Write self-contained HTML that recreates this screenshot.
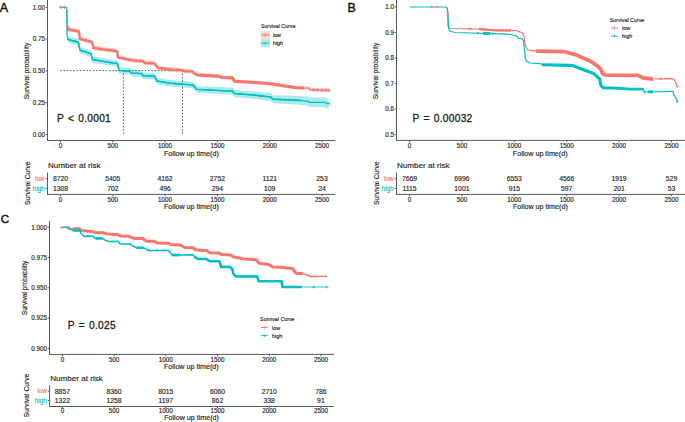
<!DOCTYPE html>
<html><head><meta charset="utf-8"><style>
html,body{margin:0;padding:0;background:#fff;overflow:hidden;}
svg{display:block;font-family:"Liberation Sans", sans-serif;}
</style></head><body>
<svg width="685" height="422" viewBox="0 0 685 422">
<rect width="685" height="422" fill="#fff"/>
<text x="-0.30" y="11.90" font-size="12.5" text-anchor="start" fill="#111" font-weight="normal" stroke="#111" stroke-width="0.45">A</text>
<line x1="47.50" y1="0.00" x2="47.50" y2="141.00" stroke="#5a5a5a" stroke-width="1" />
<line x1="47.00" y1="140.50" x2="335.20" y2="140.50" stroke="#5a5a5a" stroke-width="1" />
<line x1="45.70" y1="7.30" x2="47.50" y2="7.30" stroke="#5a5a5a" stroke-width="1" />
<text x="44.90" y="9.60" font-size="6.3" text-anchor="end" fill="#1e1e1e" font-weight="normal" stroke="#1e1e1e" stroke-width="0.15" paint-order="stroke">1.00</text>
<line x1="45.70" y1="39.10" x2="47.50" y2="39.10" stroke="#5a5a5a" stroke-width="1" />
<text x="44.90" y="41.40" font-size="6.3" text-anchor="end" fill="#1e1e1e" font-weight="normal" stroke="#1e1e1e" stroke-width="0.15" paint-order="stroke">0.75</text>
<line x1="45.70" y1="70.90" x2="47.50" y2="70.90" stroke="#5a5a5a" stroke-width="1" />
<text x="44.90" y="73.20" font-size="6.3" text-anchor="end" fill="#1e1e1e" font-weight="normal" stroke="#1e1e1e" stroke-width="0.15" paint-order="stroke">0.50</text>
<line x1="45.70" y1="102.70" x2="47.50" y2="102.70" stroke="#5a5a5a" stroke-width="1" />
<text x="44.90" y="105.00" font-size="6.3" text-anchor="end" fill="#1e1e1e" font-weight="normal" stroke="#1e1e1e" stroke-width="0.15" paint-order="stroke">0.25</text>
<line x1="45.70" y1="134.50" x2="47.50" y2="134.50" stroke="#5a5a5a" stroke-width="1" />
<text x="44.90" y="136.80" font-size="6.3" text-anchor="end" fill="#1e1e1e" font-weight="normal" stroke="#1e1e1e" stroke-width="0.15" paint-order="stroke">0.00</text>
<line x1="60.50" y1="140.50" x2="60.50" y2="142.30" stroke="#5a5a5a" stroke-width="1" />
<text x="60.50" y="148.00" font-size="6.3" text-anchor="middle" fill="#1e1e1e" font-weight="normal" stroke="#1e1e1e" stroke-width="0.15" paint-order="stroke">0</text>
<line x1="112.80" y1="140.50" x2="112.80" y2="142.30" stroke="#5a5a5a" stroke-width="1" />
<text x="112.80" y="148.00" font-size="6.3" text-anchor="middle" fill="#1e1e1e" font-weight="normal" stroke="#1e1e1e" stroke-width="0.15" paint-order="stroke">500</text>
<line x1="165.10" y1="140.50" x2="165.10" y2="142.30" stroke="#5a5a5a" stroke-width="1" />
<text x="165.10" y="148.00" font-size="6.3" text-anchor="middle" fill="#1e1e1e" font-weight="normal" stroke="#1e1e1e" stroke-width="0.15" paint-order="stroke">1000</text>
<line x1="217.40" y1="140.50" x2="217.40" y2="142.30" stroke="#5a5a5a" stroke-width="1" />
<text x="217.40" y="148.00" font-size="6.3" text-anchor="middle" fill="#1e1e1e" font-weight="normal" stroke="#1e1e1e" stroke-width="0.15" paint-order="stroke">1500</text>
<line x1="269.70" y1="140.50" x2="269.70" y2="142.30" stroke="#5a5a5a" stroke-width="1" />
<text x="269.70" y="148.00" font-size="6.3" text-anchor="middle" fill="#1e1e1e" font-weight="normal" stroke="#1e1e1e" stroke-width="0.15" paint-order="stroke">2000</text>
<line x1="322.00" y1="140.50" x2="322.00" y2="142.30" stroke="#5a5a5a" stroke-width="1" />
<text x="322.00" y="148.00" font-size="6.3" text-anchor="middle" fill="#1e1e1e" font-weight="normal" stroke="#1e1e1e" stroke-width="0.15" paint-order="stroke">2500</text>
<text x="164.00" y="155.50" font-size="7.15" text-anchor="start" fill="#1e1e1e" font-weight="normal" stroke="#1e1e1e" stroke-width="0.15" paint-order="stroke">Follow up time(d)</text>
<text x="0" y="0" font-size="6.75" text-anchor="middle" fill="#1e1e1e" stroke="#1e1e1e" stroke-width="0.15" transform="translate(28.80,71.00) rotate(-90)">Survival probability</text>
<text x="260.90" y="28.20" font-size="5.3" text-anchor="start" fill="#1e1e1e" font-weight="normal" stroke="#1e1e1e" stroke-width="0.15" paint-order="stroke">Survival Curve</text>
<rect x="260.90" y="30.90" width="9" height="8" fill="#F8766D" fill-opacity="0.3"/>
<line x1="260.90" y1="34.90" x2="269.90" y2="34.90" stroke="#F8766D" stroke-width="0.9" />
<line x1="265.40" y1="33.50" x2="265.40" y2="36.30" stroke="#F8766D" stroke-width="0.8" />
<text x="272.90" y="36.90" font-size="5.4" text-anchor="start" fill="#1e1e1e" font-weight="normal" stroke="#1e1e1e" stroke-width="0.15" paint-order="stroke">low</text>
<rect x="260.90" y="39.10" width="9" height="8" fill="#00BFC4" fill-opacity="0.3"/>
<line x1="260.90" y1="43.10" x2="269.90" y2="43.10" stroke="#00BFC4" stroke-width="0.9" />
<line x1="265.40" y1="41.70" x2="265.40" y2="44.50" stroke="#00BFC4" stroke-width="0.8" />
<text x="272.90" y="45.10" font-size="5.4" text-anchor="start" fill="#1e1e1e" font-weight="normal" stroke="#1e1e1e" stroke-width="0.15" paint-order="stroke">high</text>
<text x="57.00" y="121.80" font-size="10.2" text-anchor="start" fill="#1e1e1e" font-weight="normal" word-spacing="1.0" letter-spacing="0.26" stroke="#1e1e1e" stroke-width="0.3" paint-order="stroke">P &lt; 0.0001</text>
<polygon points="67.3,33.3 67.8,35.8 69.0,36.6 78.4,39.0 80.0,47.1 91.1,50.6 92.5,56.3 115.0,60.2 117.6,60.1 119.0,67.1 130.0,68.0 131.0,69.7 141.3,70.2 143.0,72.4 154.5,72.8 157.0,77.7 170.0,79.9 192.8,81.7 197.0,86.1 230.0,87.6 232.5,87.7 234.5,90.0 255.0,91.5 270.8,93.0 273.0,95.2 302.4,95.9 303.0,96.4 308.0,96.4 309.0,97.6 324.5,97.3 327.0,98.6 328.5,98.6 328.5,108.6 327.0,108.6 324.5,107.3 309.0,107.0 308.0,105.8 303.0,105.6 302.4,105.1 273.0,103.2 270.8,101.0 255.0,98.9 234.5,97.0 232.5,94.7 230.0,94.6 197.0,92.7 192.8,88.3 170.0,86.5 157.0,84.3 154.5,79.4 143.0,79.0 141.3,76.8 131.0,76.3 130.0,74.6 119.0,73.7 117.6,66.7 115.0,66.6 92.5,62.7 91.1,57.0 80.0,53.5 78.4,45.4 69.0,43.0 67.8,42.2 67.3,39.7" fill="#00BFC4" fill-opacity="0.33" stroke="none"/>
<polygon points="67.5,24.1 67.9,27.1 78.9,29.3 80.0,36.6 92.0,39.8 93.5,45.8 117.0,48.9 118.0,55.1 132.5,58.2 143.0,59.0 145.0,60.8 154.5,61.2 158.0,65.6 170.0,67.3 181.4,67.9 185.0,69.0 192.0,69.2 197.0,72.7 219.0,74.4 222.0,75.7 232.5,76.0 234.5,79.4 255.0,80.7 270.8,82.0 284.8,84.2 297.1,86.0 304.0,86.2 309.0,86.2 310.0,87.8 329.6,88.6 329.6,92.2 310.0,91.4 309.0,89.8 304.0,89.8 297.1,89.6 284.8,87.8 270.8,85.6 255.0,84.3 234.5,83.0 232.5,79.6 222.0,79.3 219.0,78.0 197.0,77.1 192.0,73.6 185.0,73.4 181.4,72.3 170.0,71.7 158.0,70.0 154.5,65.6 145.0,65.2 143.0,63.4 132.5,62.6 118.0,59.5 117.0,53.3 93.5,50.2 92.0,44.2 80.0,41.0 78.9,33.7 67.9,31.5 67.5,28.5" fill="#F8766D" fill-opacity="0.33" stroke="none"/>
<line x1="60.30" y1="70.60" x2="182.50" y2="70.60" stroke="#333" stroke-width="0.75" stroke-dasharray="1.6,1.65"/>
<line x1="123.40" y1="70.60" x2="123.40" y2="134.50" stroke="#333" stroke-width="0.75" stroke-dasharray="1.6,1.65"/>
<line x1="182.50" y1="70.60" x2="182.50" y2="134.50" stroke="#333" stroke-width="0.75" stroke-dasharray="1.6,1.65"/>
<polyline points="66.9,10.0 67.5,26.3 67.9,29.3 78.9,31.5 80.0,38.8 92.0,42.0 93.5,48.0 117.0,51.1 118.0,57.3 132.5,60.4 143.0,61.2 145.0,63.0 154.5,63.4 158.0,67.8 170.0,69.5 181.4,70.1 185.0,71.2 192.0,71.4 197.0,74.9 219.0,76.2 222.0,77.5 232.5,77.8 234.5,81.2 255.0,82.5 270.8,83.8 284.8,86.0 297.1,87.8 304.0,88.0 309.0,88.0 310.0,89.6 329.6,90.4" fill="none" stroke="#F8766D" stroke-width="1.2" stroke-linejoin="round" />
<polyline points="67.6,27.0 67.9,29.3 78.9,31.5 80.0,38.8 92.0,42.0 93.5,48.0 117.0,51.1 118.0,57.3 132.5,60.4 143.0,61.2 145.0,63.0 154.5,63.4 158.0,67.8 170.0,69.5 181.4,70.1 185.0,71.2 192.0,71.4 197.0,74.9 200.0,75.1" fill="none" stroke="#F8766D" stroke-width="2.4" stroke-linejoin="round"  stroke-linecap="butt"/>
<polyline points="200.0,75.1 219.0,76.2 222.0,77.5 232.5,77.8 234.5,81.2 255.0,82.5 270.8,83.8 284.8,86.0 297.1,87.8 304.0,88.0" fill="none" stroke="#F8766D" stroke-width="3.1" stroke-linejoin="round"  stroke-linecap="butt"/>
<polyline points="59.3,7.3 66.8,7.3 67.0,35.0 67.8,39.0 69.0,39.8 78.4,42.2 80.0,50.3 91.1,53.8 92.5,59.5 115.0,63.4 117.6,63.4 119.0,70.4 130.0,71.3 131.0,73.0 141.3,73.5 143.0,75.7 154.5,76.1 157.0,81.0 170.0,83.2 192.8,85.0 197.0,89.4 230.0,91.1 232.5,91.2 234.5,93.5 255.0,95.2 270.8,97.0 273.0,99.2 302.4,100.5 303.0,101.0 308.0,101.1 309.0,102.3 324.5,102.3 327.0,103.6 328.9,103.6" fill="none" stroke="#00BFC4" stroke-width="1.2" stroke-linejoin="round" />
<polyline points="67.6,38.0 67.8,39.0 69.0,39.8 78.4,42.2 80.0,50.3 91.1,53.8 92.5,59.5 115.0,63.4 117.6,63.4 119.0,70.4 130.0,71.3 131.0,73.0 141.3,73.5 143.0,75.7 154.5,76.1 157.0,81.0 170.0,83.2 192.8,85.0 197.0,89.4 230.0,91.1 232.5,91.2 234.5,93.5 255.0,95.2 270.8,97.0 273.0,99.2 302.4,100.5" fill="none" stroke="#00BFC4" stroke-width="1.45" stroke-linejoin="round"  stroke-linecap="butt"/>
<line x1="59.30" y1="7.30" x2="62.70" y2="7.30" stroke="#F8766D" stroke-width="0.9" />
<line x1="61.00" y1="5.60" x2="61.00" y2="9.00" stroke="#F8766D" stroke-width="0.9" />
<line x1="62.80" y1="7.30" x2="66.20" y2="7.30" stroke="#F8766D" stroke-width="0.9" />
<line x1="64.50" y1="5.60" x2="64.50" y2="9.00" stroke="#F8766D" stroke-width="0.9" />
<line x1="65.80" y1="26.30" x2="69.20" y2="26.30" stroke="#F8766D" stroke-width="0.9" />
<line x1="67.50" y1="24.60" x2="67.50" y2="28.00" stroke="#F8766D" stroke-width="0.9" />
<line x1="78.30" y1="38.80" x2="81.70" y2="38.80" stroke="#F8766D" stroke-width="0.9" />
<line x1="80.00" y1="37.10" x2="80.00" y2="40.50" stroke="#F8766D" stroke-width="0.9" />
<line x1="84.30" y1="40.40" x2="87.70" y2="40.40" stroke="#F8766D" stroke-width="0.9" />
<line x1="86.00" y1="38.70" x2="86.00" y2="42.10" stroke="#F8766D" stroke-width="0.9" />
<line x1="98.30" y1="48.86" x2="101.70" y2="48.86" stroke="#F8766D" stroke-width="0.9" />
<line x1="100.00" y1="47.16" x2="100.00" y2="50.56" stroke="#F8766D" stroke-width="0.9" />
<line x1="107.30" y1="50.04" x2="110.70" y2="50.04" stroke="#F8766D" stroke-width="0.9" />
<line x1="109.00" y1="48.34" x2="109.00" y2="51.74" stroke="#F8766D" stroke-width="0.9" />
<line x1="111.30" y1="50.57" x2="114.70" y2="50.57" stroke="#F8766D" stroke-width="0.9" />
<line x1="113.00" y1="48.87" x2="113.00" y2="52.27" stroke="#F8766D" stroke-width="0.9" />
<line x1="122.30" y1="58.58" x2="125.70" y2="58.58" stroke="#F8766D" stroke-width="0.9" />
<line x1="124.00" y1="56.88" x2="124.00" y2="60.28" stroke="#F8766D" stroke-width="0.9" />
<line x1="133.30" y1="60.59" x2="136.70" y2="60.59" stroke="#F8766D" stroke-width="0.9" />
<line x1="135.00" y1="58.89" x2="135.00" y2="62.29" stroke="#F8766D" stroke-width="0.9" />
<line x1="138.30" y1="60.97" x2="141.70" y2="60.97" stroke="#F8766D" stroke-width="0.9" />
<line x1="140.00" y1="59.27" x2="140.00" y2="62.67" stroke="#F8766D" stroke-width="0.9" />
<line x1="149.30" y1="63.25" x2="152.70" y2="63.25" stroke="#F8766D" stroke-width="0.9" />
<line x1="151.00" y1="61.55" x2="151.00" y2="64.95" stroke="#F8766D" stroke-width="0.9" />
<line x1="163.30" y1="68.79" x2="166.70" y2="68.79" stroke="#F8766D" stroke-width="0.9" />
<line x1="165.00" y1="67.09" x2="165.00" y2="70.49" stroke="#F8766D" stroke-width="0.9" />
<line x1="169.30" y1="69.55" x2="172.70" y2="69.55" stroke="#F8766D" stroke-width="0.9" />
<line x1="171.00" y1="67.85" x2="171.00" y2="71.25" stroke="#F8766D" stroke-width="0.9" />
<line x1="175.30" y1="69.87" x2="178.70" y2="69.87" stroke="#F8766D" stroke-width="0.9" />
<line x1="177.00" y1="68.17" x2="177.00" y2="71.57" stroke="#F8766D" stroke-width="0.9" />
<line x1="311.80" y1="89.74" x2="315.20" y2="89.74" stroke="#F8766D" stroke-width="0.9" />
<line x1="313.50" y1="88.04" x2="313.50" y2="91.44" stroke="#F8766D" stroke-width="0.9" />
<line x1="315.50" y1="89.89" x2="318.90" y2="89.89" stroke="#F8766D" stroke-width="0.9" />
<line x1="317.20" y1="88.19" x2="317.20" y2="91.59" stroke="#F8766D" stroke-width="0.9" />
<line x1="320.60" y1="90.10" x2="324.00" y2="90.10" stroke="#F8766D" stroke-width="0.9" />
<line x1="322.30" y1="88.40" x2="322.30" y2="91.80" stroke="#F8766D" stroke-width="0.9" />
<line x1="324.30" y1="90.25" x2="327.70" y2="90.25" stroke="#F8766D" stroke-width="0.9" />
<line x1="326.00" y1="88.55" x2="326.00" y2="91.95" stroke="#F8766D" stroke-width="0.9" />
<line x1="327.10" y1="90.37" x2="330.50" y2="90.37" stroke="#F8766D" stroke-width="0.9" />
<line x1="328.80" y1="88.67" x2="328.80" y2="92.07" stroke="#F8766D" stroke-width="0.9" />
<line x1="73.70" y1="41.33" x2="76.30" y2="41.33" stroke="#00BFC4" stroke-width="0.7" />
<line x1="75.00" y1="40.03" x2="75.00" y2="42.63" stroke="#00BFC4" stroke-width="0.7" />
<line x1="128.70" y1="71.30" x2="131.30" y2="71.30" stroke="#00BFC4" stroke-width="0.7" />
<line x1="130.00" y1="70.00" x2="130.00" y2="72.60" stroke="#00BFC4" stroke-width="0.7" />
<line x1="148.70" y1="75.94" x2="151.30" y2="75.94" stroke="#00BFC4" stroke-width="0.7" />
<line x1="150.00" y1="74.64" x2="150.00" y2="77.24" stroke="#00BFC4" stroke-width="0.7" />
<line x1="173.70" y1="83.59" x2="176.30" y2="83.59" stroke="#00BFC4" stroke-width="0.7" />
<line x1="175.00" y1="82.29" x2="175.00" y2="84.89" stroke="#00BFC4" stroke-width="0.7" />
<line x1="198.70" y1="89.55" x2="201.30" y2="89.55" stroke="#00BFC4" stroke-width="0.7" />
<line x1="200.00" y1="88.25" x2="200.00" y2="90.85" stroke="#00BFC4" stroke-width="0.7" />
<line x1="208.70" y1="90.07" x2="211.30" y2="90.07" stroke="#00BFC4" stroke-width="0.7" />
<line x1="210.00" y1="88.77" x2="210.00" y2="91.37" stroke="#00BFC4" stroke-width="0.7" />
<line x1="238.70" y1="93.96" x2="241.30" y2="93.96" stroke="#00BFC4" stroke-width="0.7" />
<line x1="240.00" y1="92.66" x2="240.00" y2="95.26" stroke="#00BFC4" stroke-width="0.7" />
<line x1="258.70" y1="95.77" x2="261.30" y2="95.77" stroke="#00BFC4" stroke-width="0.7" />
<line x1="260.00" y1="94.47" x2="260.00" y2="97.07" stroke="#00BFC4" stroke-width="0.7" />
<line x1="278.70" y1="99.51" x2="281.30" y2="99.51" stroke="#00BFC4" stroke-width="0.7" />
<line x1="280.00" y1="98.21" x2="280.00" y2="100.81" stroke="#00BFC4" stroke-width="0.7" />
<line x1="283.70" y1="99.73" x2="286.30" y2="99.73" stroke="#00BFC4" stroke-width="0.7" />
<line x1="285.00" y1="98.43" x2="285.00" y2="101.03" stroke="#00BFC4" stroke-width="0.7" />
<line x1="288.70" y1="99.95" x2="291.30" y2="99.95" stroke="#00BFC4" stroke-width="0.7" />
<line x1="290.00" y1="98.65" x2="290.00" y2="101.25" stroke="#00BFC4" stroke-width="0.7" />
<line x1="293.70" y1="100.17" x2="296.30" y2="100.17" stroke="#00BFC4" stroke-width="0.7" />
<line x1="295.00" y1="98.87" x2="295.00" y2="101.47" stroke="#00BFC4" stroke-width="0.7" />
<line x1="296.70" y1="100.31" x2="299.30" y2="100.31" stroke="#00BFC4" stroke-width="0.7" />
<line x1="298.00" y1="99.01" x2="298.00" y2="101.61" stroke="#00BFC4" stroke-width="0.7" />
<line x1="327.50" y1="103.60" x2="330.10" y2="103.60" stroke="#00BFC4" stroke-width="0.7" />
<line x1="328.80" y1="102.30" x2="328.80" y2="104.90" stroke="#00BFC4" stroke-width="0.7" />
<text x="48.00" y="168.10" font-size="8.1" text-anchor="start" fill="#1e1e1e" font-weight="normal" stroke="#1e1e1e" stroke-width="0.15" paint-order="stroke">Number at risk</text>
<line x1="47.50" y1="172.50" x2="47.50" y2="194.90" stroke="#5a5a5a" stroke-width="1" />
<line x1="47.00" y1="194.40" x2="335.20" y2="194.40" stroke="#5a5a5a" stroke-width="1" />
<line x1="45.70" y1="178.70" x2="47.50" y2="178.70" stroke="#5a5a5a" stroke-width="1" />
<line x1="45.70" y1="188.50" x2="47.50" y2="188.50" stroke="#5a5a5a" stroke-width="1" />
<text x="44.70" y="180.90" font-size="6.4" text-anchor="end" fill="#F8766D" font-weight="normal" stroke="#F8766D" stroke-width="0.15" paint-order="stroke">low</text>
<text x="44.70" y="190.70" font-size="6.4" text-anchor="end" fill="#00BFC4" font-weight="normal" stroke="#00BFC4" stroke-width="0.15" paint-order="stroke">high</text>
<text x="60.50" y="181.30" font-size="6.8" text-anchor="middle" fill="#1e1e1e" font-weight="normal" stroke="#1e1e1e" stroke-width="0.15" paint-order="stroke">8720</text>
<text x="60.50" y="191.10" font-size="6.8" text-anchor="middle" fill="#1e1e1e" font-weight="normal" stroke="#1e1e1e" stroke-width="0.15" paint-order="stroke">1308</text>
<line x1="60.50" y1="194.40" x2="60.50" y2="196.20" stroke="#5a5a5a" stroke-width="1" />
<text x="60.50" y="201.80" font-size="6.3" text-anchor="middle" fill="#1e1e1e" font-weight="normal" stroke="#1e1e1e" stroke-width="0.15" paint-order="stroke">0</text>
<text x="112.80" y="181.30" font-size="6.8" text-anchor="middle" fill="#1e1e1e" font-weight="normal" stroke="#1e1e1e" stroke-width="0.15" paint-order="stroke">5405</text>
<text x="112.80" y="191.10" font-size="6.8" text-anchor="middle" fill="#1e1e1e" font-weight="normal" stroke="#1e1e1e" stroke-width="0.15" paint-order="stroke">702</text>
<line x1="112.80" y1="194.40" x2="112.80" y2="196.20" stroke="#5a5a5a" stroke-width="1" />
<text x="112.80" y="201.80" font-size="6.3" text-anchor="middle" fill="#1e1e1e" font-weight="normal" stroke="#1e1e1e" stroke-width="0.15" paint-order="stroke">500</text>
<text x="165.10" y="181.30" font-size="6.8" text-anchor="middle" fill="#1e1e1e" font-weight="normal" stroke="#1e1e1e" stroke-width="0.15" paint-order="stroke">4162</text>
<text x="165.10" y="191.10" font-size="6.8" text-anchor="middle" fill="#1e1e1e" font-weight="normal" stroke="#1e1e1e" stroke-width="0.15" paint-order="stroke">496</text>
<line x1="165.10" y1="194.40" x2="165.10" y2="196.20" stroke="#5a5a5a" stroke-width="1" />
<text x="165.10" y="201.80" font-size="6.3" text-anchor="middle" fill="#1e1e1e" font-weight="normal" stroke="#1e1e1e" stroke-width="0.15" paint-order="stroke">1000</text>
<text x="217.40" y="181.30" font-size="6.8" text-anchor="middle" fill="#1e1e1e" font-weight="normal" stroke="#1e1e1e" stroke-width="0.15" paint-order="stroke">2752</text>
<text x="217.40" y="191.10" font-size="6.8" text-anchor="middle" fill="#1e1e1e" font-weight="normal" stroke="#1e1e1e" stroke-width="0.15" paint-order="stroke">294</text>
<line x1="217.40" y1="194.40" x2="217.40" y2="196.20" stroke="#5a5a5a" stroke-width="1" />
<text x="217.40" y="201.80" font-size="6.3" text-anchor="middle" fill="#1e1e1e" font-weight="normal" stroke="#1e1e1e" stroke-width="0.15" paint-order="stroke">1500</text>
<text x="269.70" y="181.30" font-size="6.8" text-anchor="middle" fill="#1e1e1e" font-weight="normal" stroke="#1e1e1e" stroke-width="0.15" paint-order="stroke">1121</text>
<text x="269.70" y="191.10" font-size="6.8" text-anchor="middle" fill="#1e1e1e" font-weight="normal" stroke="#1e1e1e" stroke-width="0.15" paint-order="stroke">109</text>
<line x1="269.70" y1="194.40" x2="269.70" y2="196.20" stroke="#5a5a5a" stroke-width="1" />
<text x="269.70" y="201.80" font-size="6.3" text-anchor="middle" fill="#1e1e1e" font-weight="normal" stroke="#1e1e1e" stroke-width="0.15" paint-order="stroke">2000</text>
<text x="322.00" y="181.30" font-size="6.8" text-anchor="middle" fill="#1e1e1e" font-weight="normal" stroke="#1e1e1e" stroke-width="0.15" paint-order="stroke">253</text>
<text x="322.00" y="191.10" font-size="6.8" text-anchor="middle" fill="#1e1e1e" font-weight="normal" stroke="#1e1e1e" stroke-width="0.15" paint-order="stroke">24</text>
<line x1="322.00" y1="194.40" x2="322.00" y2="196.20" stroke="#5a5a5a" stroke-width="1" />
<text x="322.00" y="201.80" font-size="6.3" text-anchor="middle" fill="#1e1e1e" font-weight="normal" stroke="#1e1e1e" stroke-width="0.15" paint-order="stroke">2500</text>
<text x="164.00" y="209.40" font-size="7.15" text-anchor="start" fill="#1e1e1e" font-weight="normal" stroke="#1e1e1e" stroke-width="0.15" paint-order="stroke">Follow up time(d)</text>
<text x="0" y="0" font-size="6.7" text-anchor="middle" fill="#1e1e1e" stroke="#1e1e1e" stroke-width="0.15" transform="translate(29.50,183.20) rotate(-90)">Survival Curve</text>
<text x="347.60" y="11.90" font-size="12.3" text-anchor="start" fill="#111" font-weight="normal" stroke="#111" stroke-width="0.45">B</text>
<line x1="396.50" y1="0.00" x2="396.50" y2="140.90" stroke="#5a5a5a" stroke-width="1" />
<line x1="396.00" y1="140.40" x2="685.00" y2="140.40" stroke="#5a5a5a" stroke-width="1" />
<line x1="394.70" y1="6.90" x2="396.50" y2="6.90" stroke="#5a5a5a" stroke-width="1" />
<text x="393.90" y="9.20" font-size="6.3" text-anchor="end" fill="#1e1e1e" font-weight="normal" stroke="#1e1e1e" stroke-width="0.15" paint-order="stroke">1.0</text>
<line x1="394.70" y1="32.44" x2="396.50" y2="32.44" stroke="#5a5a5a" stroke-width="1" />
<text x="393.90" y="34.74" font-size="6.3" text-anchor="end" fill="#1e1e1e" font-weight="normal" stroke="#1e1e1e" stroke-width="0.15" paint-order="stroke">0.9</text>
<line x1="394.70" y1="57.98" x2="396.50" y2="57.98" stroke="#5a5a5a" stroke-width="1" />
<text x="393.90" y="60.28" font-size="6.3" text-anchor="end" fill="#1e1e1e" font-weight="normal" stroke="#1e1e1e" stroke-width="0.15" paint-order="stroke">0.8</text>
<line x1="394.70" y1="83.52" x2="396.50" y2="83.52" stroke="#5a5a5a" stroke-width="1" />
<text x="393.90" y="85.82" font-size="6.3" text-anchor="end" fill="#1e1e1e" font-weight="normal" stroke="#1e1e1e" stroke-width="0.15" paint-order="stroke">0.7</text>
<line x1="394.70" y1="109.06" x2="396.50" y2="109.06" stroke="#5a5a5a" stroke-width="1" />
<text x="393.90" y="111.36" font-size="6.3" text-anchor="end" fill="#1e1e1e" font-weight="normal" stroke="#1e1e1e" stroke-width="0.15" paint-order="stroke">0.6</text>
<line x1="394.70" y1="134.60" x2="396.50" y2="134.60" stroke="#5a5a5a" stroke-width="1" />
<text x="393.90" y="136.90" font-size="6.3" text-anchor="end" fill="#1e1e1e" font-weight="normal" stroke="#1e1e1e" stroke-width="0.15" paint-order="stroke">0.5</text>
<line x1="409.50" y1="140.40" x2="409.50" y2="142.20" stroke="#5a5a5a" stroke-width="1" />
<text x="409.50" y="147.90" font-size="6.3" text-anchor="middle" fill="#1e1e1e" font-weight="normal" stroke="#1e1e1e" stroke-width="0.15" paint-order="stroke">0</text>
<line x1="461.90" y1="140.40" x2="461.90" y2="142.20" stroke="#5a5a5a" stroke-width="1" />
<text x="461.90" y="147.90" font-size="6.3" text-anchor="middle" fill="#1e1e1e" font-weight="normal" stroke="#1e1e1e" stroke-width="0.15" paint-order="stroke">500</text>
<line x1="514.30" y1="140.40" x2="514.30" y2="142.20" stroke="#5a5a5a" stroke-width="1" />
<text x="514.30" y="147.90" font-size="6.3" text-anchor="middle" fill="#1e1e1e" font-weight="normal" stroke="#1e1e1e" stroke-width="0.15" paint-order="stroke">1000</text>
<line x1="566.70" y1="140.40" x2="566.70" y2="142.20" stroke="#5a5a5a" stroke-width="1" />
<text x="566.70" y="147.90" font-size="6.3" text-anchor="middle" fill="#1e1e1e" font-weight="normal" stroke="#1e1e1e" stroke-width="0.15" paint-order="stroke">1500</text>
<line x1="619.10" y1="140.40" x2="619.10" y2="142.20" stroke="#5a5a5a" stroke-width="1" />
<text x="619.10" y="147.90" font-size="6.3" text-anchor="middle" fill="#1e1e1e" font-weight="normal" stroke="#1e1e1e" stroke-width="0.15" paint-order="stroke">2000</text>
<line x1="671.50" y1="140.40" x2="671.50" y2="142.20" stroke="#5a5a5a" stroke-width="1" />
<text x="671.50" y="147.90" font-size="6.3" text-anchor="middle" fill="#1e1e1e" font-weight="normal" stroke="#1e1e1e" stroke-width="0.15" paint-order="stroke">2500</text>
<text x="512.80" y="155.50" font-size="7.15" text-anchor="start" fill="#1e1e1e" font-weight="normal" stroke="#1e1e1e" stroke-width="0.15" paint-order="stroke">Follow up time(d)</text>
<text x="0" y="0" font-size="6.75" text-anchor="middle" fill="#1e1e1e" stroke="#1e1e1e" stroke-width="0.15" transform="translate(378.20,71.00) rotate(-90)">Survival probability</text>
<text x="609.80" y="21.60" font-size="5.3" text-anchor="start" fill="#1e1e1e" font-weight="normal" stroke="#1e1e1e" stroke-width="0.15" paint-order="stroke">Survival Curve</text>
<line x1="611.00" y1="28.00" x2="618.00" y2="28.00" stroke="#F8766D" stroke-width="0.9" />
<line x1="614.50" y1="26.60" x2="614.50" y2="29.40" stroke="#F8766D" stroke-width="0.8" />
<text x="622.00" y="30.00" font-size="5.4" text-anchor="start" fill="#1e1e1e" font-weight="normal" stroke="#1e1e1e" stroke-width="0.15" paint-order="stroke">low</text>
<line x1="611.00" y1="36.20" x2="618.00" y2="36.20" stroke="#00BFC4" stroke-width="0.9" />
<line x1="614.50" y1="34.80" x2="614.50" y2="37.60" stroke="#00BFC4" stroke-width="0.8" />
<text x="622.00" y="38.20" font-size="5.4" text-anchor="start" fill="#1e1e1e" font-weight="normal" stroke="#1e1e1e" stroke-width="0.15" paint-order="stroke">high</text>
<text x="412.60" y="121.70" font-size="10.2" text-anchor="start" fill="#1e1e1e" font-weight="normal" word-spacing="1.0" letter-spacing="0.26" stroke="#1e1e1e" stroke-width="0.3" paint-order="stroke">P = 0.00032</text>
<polyline points="446.5,7.6 447.0,8.0 447.8,12.0 448.0,26.3 449.0,28.0 450.0,28.5 478.6,29.0 495.0,30.4 516.5,30.5 518.7,31.4 522.2,32.7 524.0,36.2 525.3,45.4 527.5,49.8 536.2,51.1 563.9,51.6 567.4,52.5 577.1,55.1 581.9,57.5 590.2,61.0 597.3,65.8 600.8,69.3 602.6,73.5 605.6,75.2 638.0,75.4 642.8,77.8 652.9,79.0 673.0,78.6 675.4,81.3 677.2,86.7" fill="none" stroke="#F8766D" stroke-width="1.2" stroke-linejoin="round" />
<polyline points="479.0,29.0 495.0,30.4 511.0,30.5" fill="none" stroke="#F8766D" stroke-width="2.4" stroke-linejoin="round"  stroke-linecap="butt"/>
<polyline points="536.0,51.1 536.2,51.1 563.9,51.6 567.4,52.5 577.1,55.1 581.9,57.5 590.2,61.0 597.3,65.8 600.8,69.3 602.6,73.5 605.6,75.2 638.0,75.4 642.8,77.8 652.9,79.0 653.0,79.0" fill="none" stroke="#F8766D" stroke-width="3.8" stroke-linejoin="round"  stroke-linecap="butt"/>
<polyline points="409.9,7.0 445.7,7.0 447.0,8.0 447.8,12.0 448.5,26.0 449.0,29.8 451.0,31.5 455.4,32.5 500.0,33.8 510.8,34.5 516.5,35.8 518.7,38.4 521.8,38.6 523.5,41.0 525.3,58.2 526.5,61.0 529.6,63.0 540.2,63.6 542.4,64.7 570.0,65.4 573.6,65.8 578.3,67.8 585.4,70.5 593.7,73.5 599.6,78.8 600.8,85.3 603.2,87.7 617.4,88.3 630.0,89.1 642.8,89.1 644.5,92.0 672.4,91.4 673.2,91.4 673.6,95.0 674.8,95.0 675.3,98.0 676.6,98.0 677.2,101.5" fill="none" stroke="#00BFC4" stroke-width="1.2" stroke-linejoin="round" />
<polyline points="483.0,33.3 490.4,33.5" fill="none" stroke="#00BFC4" stroke-width="3.0" stroke-linejoin="round"  stroke-linecap="butt"/>
<polyline points="542.4,64.7 570.0,65.4 573.6,65.8 578.3,67.8 585.4,70.5 593.7,73.5 599.6,78.8 600.8,85.3 603.2,87.7 617.4,88.3" fill="none" stroke="#00BFC4" stroke-width="3.1" stroke-linejoin="round"  stroke-linecap="butt"/>
<polyline points="617.4,88.3 630.0,89.1 642.8,89.1 643.0,89.4" fill="none" stroke="#00BFC4" stroke-width="2.9" stroke-linejoin="round"  stroke-linecap="butt"/>
<polyline points="648.0,91.9 653.0,91.8" fill="none" stroke="#00BFC4" stroke-width="2.9" stroke-linejoin="round"  stroke-linecap="butt"/>
<line x1="430.20" y1="7.00" x2="433.20" y2="7.00" stroke="#F8766D" stroke-width="0.7" />
<line x1="431.70" y1="5.50" x2="431.70" y2="8.50" stroke="#F8766D" stroke-width="0.7" />
<line x1="435.70" y1="7.00" x2="438.70" y2="7.00" stroke="#F8766D" stroke-width="0.7" />
<line x1="437.20" y1="5.50" x2="437.20" y2="8.50" stroke="#F8766D" stroke-width="0.7" />
<line x1="446.20" y1="14.50" x2="449.20" y2="14.50" stroke="#F8766D" stroke-width="0.7" />
<line x1="447.70" y1="13.00" x2="447.70" y2="16.00" stroke="#F8766D" stroke-width="0.7" />
<line x1="467.90" y1="28.84" x2="470.90" y2="28.84" stroke="#F8766D" stroke-width="0.7" />
<line x1="469.40" y1="27.34" x2="469.40" y2="30.34" stroke="#F8766D" stroke-width="0.7" />
<line x1="469.60" y1="28.87" x2="472.60" y2="28.87" stroke="#F8766D" stroke-width="0.7" />
<line x1="471.10" y1="27.37" x2="471.10" y2="30.37" stroke="#F8766D" stroke-width="0.7" />
<line x1="659.10" y1="78.85" x2="662.10" y2="78.85" stroke="#F8766D" stroke-width="0.7" />
<line x1="660.60" y1="77.35" x2="660.60" y2="80.35" stroke="#F8766D" stroke-width="0.7" />
<line x1="675.70" y1="86.70" x2="678.70" y2="86.70" stroke="#F8766D" stroke-width="0.7" />
<line x1="677.20" y1="85.20" x2="677.20" y2="88.20" stroke="#F8766D" stroke-width="0.7" />
<line x1="476.70" y1="33.16" x2="479.70" y2="33.16" stroke="#00BFC4" stroke-width="0.7" />
<line x1="478.20" y1="31.66" x2="478.20" y2="34.66" stroke="#00BFC4" stroke-width="0.7" />
<line x1="491.10" y1="33.58" x2="494.10" y2="33.58" stroke="#00BFC4" stroke-width="0.7" />
<line x1="492.60" y1="32.08" x2="492.60" y2="35.08" stroke="#00BFC4" stroke-width="0.7" />
<line x1="643.10" y1="92.00" x2="646.10" y2="92.00" stroke="#00BFC4" stroke-width="0.7" />
<line x1="644.60" y1="90.50" x2="644.60" y2="93.50" stroke="#00BFC4" stroke-width="0.7" />
<line x1="675.70" y1="101.50" x2="678.70" y2="101.50" stroke="#00BFC4" stroke-width="0.7" />
<line x1="677.20" y1="100.00" x2="677.20" y2="103.00" stroke="#00BFC4" stroke-width="0.7" />
<text x="397.00" y="168.10" font-size="8.1" text-anchor="start" fill="#1e1e1e" font-weight="normal" stroke="#1e1e1e" stroke-width="0.15" paint-order="stroke">Number at risk</text>
<line x1="396.50" y1="172.50" x2="396.50" y2="194.90" stroke="#5a5a5a" stroke-width="1" />
<line x1="396.00" y1="194.40" x2="685.00" y2="194.40" stroke="#5a5a5a" stroke-width="1" />
<line x1="394.70" y1="178.70" x2="396.50" y2="178.70" stroke="#5a5a5a" stroke-width="1" />
<line x1="394.70" y1="188.50" x2="396.50" y2="188.50" stroke="#5a5a5a" stroke-width="1" />
<text x="393.70" y="180.90" font-size="6.4" text-anchor="end" fill="#F8766D" font-weight="normal" stroke="#F8766D" stroke-width="0.15" paint-order="stroke">low</text>
<text x="393.70" y="190.70" font-size="6.4" text-anchor="end" fill="#00BFC4" font-weight="normal" stroke="#00BFC4" stroke-width="0.15" paint-order="stroke">high</text>
<text x="409.50" y="181.30" font-size="6.8" text-anchor="middle" fill="#1e1e1e" font-weight="normal" stroke="#1e1e1e" stroke-width="0.15" paint-order="stroke">7669</text>
<text x="409.50" y="191.10" font-size="6.8" text-anchor="middle" fill="#1e1e1e" font-weight="normal" stroke="#1e1e1e" stroke-width="0.15" paint-order="stroke">1115</text>
<line x1="409.50" y1="194.40" x2="409.50" y2="196.20" stroke="#5a5a5a" stroke-width="1" />
<text x="409.50" y="201.80" font-size="6.3" text-anchor="middle" fill="#1e1e1e" font-weight="normal" stroke="#1e1e1e" stroke-width="0.15" paint-order="stroke">0</text>
<text x="461.90" y="181.30" font-size="6.8" text-anchor="middle" fill="#1e1e1e" font-weight="normal" stroke="#1e1e1e" stroke-width="0.15" paint-order="stroke">6996</text>
<text x="461.90" y="191.10" font-size="6.8" text-anchor="middle" fill="#1e1e1e" font-weight="normal" stroke="#1e1e1e" stroke-width="0.15" paint-order="stroke">1001</text>
<line x1="461.90" y1="194.40" x2="461.90" y2="196.20" stroke="#5a5a5a" stroke-width="1" />
<text x="461.90" y="201.80" font-size="6.3" text-anchor="middle" fill="#1e1e1e" font-weight="normal" stroke="#1e1e1e" stroke-width="0.15" paint-order="stroke">500</text>
<text x="514.30" y="181.30" font-size="6.8" text-anchor="middle" fill="#1e1e1e" font-weight="normal" stroke="#1e1e1e" stroke-width="0.15" paint-order="stroke">6553</text>
<text x="514.30" y="191.10" font-size="6.8" text-anchor="middle" fill="#1e1e1e" font-weight="normal" stroke="#1e1e1e" stroke-width="0.15" paint-order="stroke">915</text>
<line x1="514.30" y1="194.40" x2="514.30" y2="196.20" stroke="#5a5a5a" stroke-width="1" />
<text x="514.30" y="201.80" font-size="6.3" text-anchor="middle" fill="#1e1e1e" font-weight="normal" stroke="#1e1e1e" stroke-width="0.15" paint-order="stroke">1000</text>
<text x="566.70" y="181.30" font-size="6.8" text-anchor="middle" fill="#1e1e1e" font-weight="normal" stroke="#1e1e1e" stroke-width="0.15" paint-order="stroke">4566</text>
<text x="566.70" y="191.10" font-size="6.8" text-anchor="middle" fill="#1e1e1e" font-weight="normal" stroke="#1e1e1e" stroke-width="0.15" paint-order="stroke">597</text>
<line x1="566.70" y1="194.40" x2="566.70" y2="196.20" stroke="#5a5a5a" stroke-width="1" />
<text x="566.70" y="201.80" font-size="6.3" text-anchor="middle" fill="#1e1e1e" font-weight="normal" stroke="#1e1e1e" stroke-width="0.15" paint-order="stroke">1500</text>
<text x="619.10" y="181.30" font-size="6.8" text-anchor="middle" fill="#1e1e1e" font-weight="normal" stroke="#1e1e1e" stroke-width="0.15" paint-order="stroke">1919</text>
<text x="619.10" y="191.10" font-size="6.8" text-anchor="middle" fill="#1e1e1e" font-weight="normal" stroke="#1e1e1e" stroke-width="0.15" paint-order="stroke">201</text>
<line x1="619.10" y1="194.40" x2="619.10" y2="196.20" stroke="#5a5a5a" stroke-width="1" />
<text x="619.10" y="201.80" font-size="6.3" text-anchor="middle" fill="#1e1e1e" font-weight="normal" stroke="#1e1e1e" stroke-width="0.15" paint-order="stroke">2000</text>
<text x="671.50" y="181.30" font-size="6.8" text-anchor="middle" fill="#1e1e1e" font-weight="normal" stroke="#1e1e1e" stroke-width="0.15" paint-order="stroke">529</text>
<text x="671.50" y="191.10" font-size="6.8" text-anchor="middle" fill="#1e1e1e" font-weight="normal" stroke="#1e1e1e" stroke-width="0.15" paint-order="stroke">53</text>
<line x1="671.50" y1="194.40" x2="671.50" y2="196.20" stroke="#5a5a5a" stroke-width="1" />
<text x="671.50" y="201.80" font-size="6.3" text-anchor="middle" fill="#1e1e1e" font-weight="normal" stroke="#1e1e1e" stroke-width="0.15" paint-order="stroke">2500</text>
<text x="513.00" y="209.40" font-size="7.15" text-anchor="start" fill="#1e1e1e" font-weight="normal" stroke="#1e1e1e" stroke-width="0.15" paint-order="stroke">Follow up time(d)</text>
<text x="0" y="0" font-size="6.7" text-anchor="middle" fill="#1e1e1e" stroke="#1e1e1e" stroke-width="0.15" transform="translate(378.70,183.20) rotate(-90)">Survival Curve</text>
<text x="0.70" y="222.90" font-size="11.6" text-anchor="start" fill="#111" font-weight="normal" stroke="#111" stroke-width="0.45">C</text>
<line x1="49.50" y1="221.00" x2="49.50" y2="354.90" stroke="#5a5a5a" stroke-width="1" />
<line x1="49.00" y1="354.40" x2="334.00" y2="354.40" stroke="#5a5a5a" stroke-width="1" />
<line x1="47.70" y1="227.20" x2="49.50" y2="227.20" stroke="#5a5a5a" stroke-width="1" />
<text x="46.90" y="229.50" font-size="6.3" text-anchor="end" fill="#1e1e1e" font-weight="normal" stroke="#1e1e1e" stroke-width="0.15" paint-order="stroke">1.000</text>
<line x1="47.70" y1="257.50" x2="49.50" y2="257.50" stroke="#5a5a5a" stroke-width="1" />
<text x="46.90" y="259.80" font-size="6.3" text-anchor="end" fill="#1e1e1e" font-weight="normal" stroke="#1e1e1e" stroke-width="0.15" paint-order="stroke">0.975</text>
<line x1="47.70" y1="287.80" x2="49.50" y2="287.80" stroke="#5a5a5a" stroke-width="1" />
<text x="46.90" y="290.10" font-size="6.3" text-anchor="end" fill="#1e1e1e" font-weight="normal" stroke="#1e1e1e" stroke-width="0.15" paint-order="stroke">0.950</text>
<line x1="47.70" y1="318.10" x2="49.50" y2="318.10" stroke="#5a5a5a" stroke-width="1" />
<text x="46.90" y="320.40" font-size="6.3" text-anchor="end" fill="#1e1e1e" font-weight="normal" stroke="#1e1e1e" stroke-width="0.15" paint-order="stroke">0.925</text>
<line x1="47.70" y1="348.40" x2="49.50" y2="348.40" stroke="#5a5a5a" stroke-width="1" />
<text x="46.90" y="350.70" font-size="6.3" text-anchor="end" fill="#1e1e1e" font-weight="normal" stroke="#1e1e1e" stroke-width="0.15" paint-order="stroke">0.900</text>
<line x1="62.40" y1="354.40" x2="62.40" y2="356.20" stroke="#5a5a5a" stroke-width="1" />
<text x="62.40" y="361.90" font-size="6.3" text-anchor="middle" fill="#1e1e1e" font-weight="normal" stroke="#1e1e1e" stroke-width="0.15" paint-order="stroke">0</text>
<line x1="114.10" y1="354.40" x2="114.10" y2="356.20" stroke="#5a5a5a" stroke-width="1" />
<text x="114.10" y="361.90" font-size="6.3" text-anchor="middle" fill="#1e1e1e" font-weight="normal" stroke="#1e1e1e" stroke-width="0.15" paint-order="stroke">500</text>
<line x1="165.80" y1="354.40" x2="165.80" y2="356.20" stroke="#5a5a5a" stroke-width="1" />
<text x="165.80" y="361.90" font-size="6.3" text-anchor="middle" fill="#1e1e1e" font-weight="normal" stroke="#1e1e1e" stroke-width="0.15" paint-order="stroke">1000</text>
<line x1="217.50" y1="354.40" x2="217.50" y2="356.20" stroke="#5a5a5a" stroke-width="1" />
<text x="217.50" y="361.90" font-size="6.3" text-anchor="middle" fill="#1e1e1e" font-weight="normal" stroke="#1e1e1e" stroke-width="0.15" paint-order="stroke">1500</text>
<line x1="269.20" y1="354.40" x2="269.20" y2="356.20" stroke="#5a5a5a" stroke-width="1" />
<text x="269.20" y="361.90" font-size="6.3" text-anchor="middle" fill="#1e1e1e" font-weight="normal" stroke="#1e1e1e" stroke-width="0.15" paint-order="stroke">2000</text>
<line x1="320.90" y1="354.40" x2="320.90" y2="356.20" stroke="#5a5a5a" stroke-width="1" />
<text x="320.90" y="361.90" font-size="6.3" text-anchor="middle" fill="#1e1e1e" font-weight="normal" stroke="#1e1e1e" stroke-width="0.15" paint-order="stroke">2500</text>
<text x="163.90" y="368.80" font-size="7.15" text-anchor="start" fill="#1e1e1e" font-weight="normal" stroke="#1e1e1e" stroke-width="0.15" paint-order="stroke">Follow up time(d)</text>
<text x="0" y="0" font-size="6.5" text-anchor="middle" fill="#1e1e1e" stroke="#1e1e1e" stroke-width="0.15" transform="translate(27.30,287.90) rotate(-90)">Survival probability</text>
<text x="260.10" y="320.90" font-size="5.3" text-anchor="start" fill="#1e1e1e" font-weight="normal" stroke="#1e1e1e" stroke-width="0.15" paint-order="stroke">Survival Curve</text>
<line x1="261.00" y1="327.50" x2="268.00" y2="327.50" stroke="#F8766D" stroke-width="0.9" />
<line x1="264.50" y1="326.10" x2="264.50" y2="328.90" stroke="#F8766D" stroke-width="0.8" />
<text x="272.00" y="329.50" font-size="5.4" text-anchor="start" fill="#1e1e1e" font-weight="normal" stroke="#1e1e1e" stroke-width="0.15" paint-order="stroke">low</text>
<line x1="261.00" y1="335.60" x2="268.00" y2="335.60" stroke="#00BFC4" stroke-width="0.9" />
<line x1="264.50" y1="334.20" x2="264.50" y2="337.00" stroke="#00BFC4" stroke-width="0.8" />
<text x="272.00" y="337.60" font-size="5.4" text-anchor="start" fill="#1e1e1e" font-weight="normal" stroke="#1e1e1e" stroke-width="0.15" paint-order="stroke">high</text>
<text x="67.80" y="329.00" font-size="10.2" text-anchor="start" fill="#1e1e1e" font-weight="normal" word-spacing="1.0" letter-spacing="0.26" stroke="#1e1e1e" stroke-width="0.3" paint-order="stroke">P = 0.025</text>
<polyline points="66.0,227.5 67.3,227.5 69.5,229.2 73.0,228.8 79.6,228.8 81.3,230.5 91.0,231.4 93.6,231.8 96.2,232.7 103.2,232.7 106.8,234.0 117.9,234.6 120.5,235.9 128.9,236.3 131.9,237.6 134.6,238.5 142.9,238.5 146.0,241.2 153.9,241.2 157.8,243.1 168.5,243.3 171.1,244.6 180.4,245.0 183.4,246.8 186.0,247.8 193.1,247.8 195.7,249.8 207.1,250.7 209.7,252.7 219.4,253.1 221.6,254.6 230.5,255.0 233.2,256.8 244.6,259.0 256.0,259.8 259.5,263.4 268.2,264.2 272.6,266.9 281.1,267.2 286.8,268.1 292.5,268.5 296.1,273.4 302.6,273.4 307.5,275.1 310.1,276.4 326.8,276.4" fill="none" stroke="#F8766D" stroke-width="1.3" stroke-linejoin="round" />
<polyline points="73.0,228.8 79.6,228.8 81.3,230.5 91.0,231.4 93.6,231.8 96.2,232.7 103.2,232.7 106.8,234.0 117.9,234.6 120.5,235.9 128.9,236.3 131.9,237.6 134.6,238.5 142.9,238.5 146.0,241.2 153.9,241.2 157.8,243.1 168.5,243.3 171.1,244.6 180.4,245.0 183.4,246.8 186.0,247.8 193.1,247.8 195.7,249.8 207.1,250.7 209.7,252.7 219.4,253.1 221.6,254.6 230.5,255.0 233.2,256.8 244.6,259.0 256.0,259.8 259.5,263.4 268.2,264.2 272.6,266.9 281.1,267.2 286.8,268.1 292.5,268.5 296.1,273.4 302.6,273.4" fill="none" stroke="#F8766D" stroke-width="3.0" stroke-linejoin="round"  stroke-linecap="butt"/>
<polyline points="61.1,227.5 68.2,227.0 71.2,229.2 73.9,230.5 79.6,230.5 81.3,234.0 84.0,236.2 92.7,236.2 95.4,238.4 102.4,238.4 105.9,240.6 109.4,241.5 117.9,241.2 120.1,244.0 130.2,244.0 132.8,246.0 136.3,247.7 143.3,247.7 148.6,250.4 168.5,250.5 172.0,255.1 193.1,254.7 195.7,257.7 197.9,259.0 206.2,259.0 209.7,261.2 219.4,261.2 221.1,266.9 229.6,266.9 232.3,269.0 233.2,273.4 235.8,276.5 257.3,276.5 258.6,281.3 281.6,281.2 282.5,287.0 301.8,287.0" fill="none" stroke="#00BFC4" stroke-width="1.5" stroke-linejoin="round" />
<polyline points="301.8,287.0 326.8,287.0" fill="none" stroke="#00BFC4" stroke-width="1.1" stroke-linejoin="round" stroke-opacity="0.75"/>
<polyline points="73.0,230.1 73.9,230.5 79.6,230.5 80.0,231.3" fill="none" stroke="#00BFC4" stroke-width="2.6" stroke-linejoin="round"  stroke-linecap="butt"/>
<polyline points="96.0,238.4 102.4,238.4" fill="none" stroke="#00BFC4" stroke-width="2.6" stroke-linejoin="round"  stroke-linecap="butt"/>
<polyline points="136.3,247.7 143.3,247.7" fill="none" stroke="#00BFC4" stroke-width="2.6" stroke-linejoin="round"  stroke-linecap="butt"/>
<polyline points="172.0,255.1 180.0,254.9" fill="none" stroke="#00BFC4" stroke-width="2.6" stroke-linejoin="round"  stroke-linecap="butt"/>
<polyline points="195.0,256.9 195.7,257.7 197.9,259.0 206.2,259.0 209.7,261.2 219.4,261.2 221.1,266.9 229.6,266.9 232.3,269.0 233.2,273.4 235.8,276.5 257.3,276.5 258.6,281.3 281.6,281.2 282.5,287.0 301.8,287.0" fill="none" stroke="#00BFC4" stroke-width="2.6" stroke-linejoin="round"  stroke-linecap="butt"/>
<line x1="60.00" y1="227.50" x2="63.00" y2="227.50" stroke="#F8766D" stroke-width="0.7" />
<line x1="61.50" y1="226.00" x2="61.50" y2="229.00" stroke="#F8766D" stroke-width="0.7" />
<line x1="65.30" y1="227.50" x2="68.30" y2="227.50" stroke="#F8766D" stroke-width="0.7" />
<line x1="66.80" y1="226.00" x2="66.80" y2="229.00" stroke="#F8766D" stroke-width="0.7" />
<line x1="68.00" y1="229.20" x2="71.00" y2="229.20" stroke="#F8766D" stroke-width="0.7" />
<line x1="69.50" y1="227.70" x2="69.50" y2="230.70" stroke="#F8766D" stroke-width="0.7" />
<line x1="119.00" y1="235.90" x2="122.00" y2="235.90" stroke="#F8766D" stroke-width="0.7" />
<line x1="120.50" y1="234.40" x2="120.50" y2="237.40" stroke="#F8766D" stroke-width="0.7" />
<line x1="306.80" y1="275.50" x2="309.80" y2="275.50" stroke="#F8766D" stroke-width="0.7" />
<line x1="308.30" y1="274.00" x2="308.30" y2="277.00" stroke="#F8766D" stroke-width="0.7" />
<line x1="309.50" y1="276.40" x2="312.50" y2="276.40" stroke="#F8766D" stroke-width="0.7" />
<line x1="311.00" y1="274.90" x2="311.00" y2="277.90" stroke="#F8766D" stroke-width="0.7" />
<line x1="312.10" y1="276.40" x2="315.10" y2="276.40" stroke="#F8766D" stroke-width="0.7" />
<line x1="313.60" y1="274.90" x2="313.60" y2="277.90" stroke="#F8766D" stroke-width="0.7" />
<line x1="314.70" y1="276.40" x2="317.70" y2="276.40" stroke="#F8766D" stroke-width="0.7" />
<line x1="316.20" y1="274.90" x2="316.20" y2="277.90" stroke="#F8766D" stroke-width="0.7" />
<line x1="324.40" y1="276.40" x2="327.40" y2="276.40" stroke="#F8766D" stroke-width="0.7" />
<line x1="325.90" y1="274.90" x2="325.90" y2="277.90" stroke="#F8766D" stroke-width="0.7" />
<line x1="85.50" y1="236.20" x2="88.50" y2="236.20" stroke="#00BFC4" stroke-width="0.7" />
<line x1="87.00" y1="234.70" x2="87.00" y2="237.70" stroke="#00BFC4" stroke-width="0.7" />
<line x1="88.00" y1="236.20" x2="91.00" y2="236.20" stroke="#00BFC4" stroke-width="0.7" />
<line x1="89.50" y1="234.70" x2="89.50" y2="237.70" stroke="#00BFC4" stroke-width="0.7" />
<line x1="128.50" y1="244.00" x2="131.50" y2="244.00" stroke="#00BFC4" stroke-width="0.7" />
<line x1="130.00" y1="242.50" x2="130.00" y2="245.50" stroke="#00BFC4" stroke-width="0.7" />
<line x1="146.50" y1="250.09" x2="149.50" y2="250.09" stroke="#00BFC4" stroke-width="0.7" />
<line x1="148.00" y1="248.59" x2="148.00" y2="251.59" stroke="#00BFC4" stroke-width="0.7" />
<line x1="155.50" y1="250.44" x2="158.50" y2="250.44" stroke="#00BFC4" stroke-width="0.7" />
<line x1="157.00" y1="248.94" x2="157.00" y2="251.94" stroke="#00BFC4" stroke-width="0.7" />
<line x1="162.50" y1="250.48" x2="165.50" y2="250.48" stroke="#00BFC4" stroke-width="0.7" />
<line x1="164.00" y1="248.98" x2="164.00" y2="251.98" stroke="#00BFC4" stroke-width="0.7" />
<line x1="194.00" y1="257.47" x2="197.00" y2="257.47" stroke="#00BFC4" stroke-width="0.7" />
<line x1="195.50" y1="255.97" x2="195.50" y2="258.97" stroke="#00BFC4" stroke-width="0.7" />
<line x1="312.10" y1="287.00" x2="315.10" y2="287.00" stroke="#00BFC4" stroke-width="0.7" />
<line x1="313.60" y1="285.50" x2="313.60" y2="288.50" stroke="#00BFC4" stroke-width="0.7" />
<line x1="325.30" y1="287.00" x2="328.30" y2="287.00" stroke="#00BFC4" stroke-width="0.7" />
<line x1="326.80" y1="285.50" x2="326.80" y2="288.50" stroke="#00BFC4" stroke-width="0.7" />
<text x="50.20" y="380.90" font-size="8.1" text-anchor="start" fill="#1e1e1e" font-weight="normal" stroke="#1e1e1e" stroke-width="0.15" paint-order="stroke">Number at risk</text>
<line x1="49.60" y1="385.20" x2="49.60" y2="407.00" stroke="#5a5a5a" stroke-width="1" />
<line x1="49.10" y1="406.50" x2="334.00" y2="406.50" stroke="#5a5a5a" stroke-width="1" />
<line x1="47.80" y1="391.10" x2="49.60" y2="391.10" stroke="#5a5a5a" stroke-width="1" />
<line x1="47.80" y1="400.60" x2="49.60" y2="400.60" stroke="#5a5a5a" stroke-width="1" />
<text x="46.80" y="393.30" font-size="6.4" text-anchor="end" fill="#F8766D" font-weight="normal" stroke="#F8766D" stroke-width="0.15" paint-order="stroke">low</text>
<text x="46.80" y="402.80" font-size="6.4" text-anchor="end" fill="#00BFC4" font-weight="normal" stroke="#00BFC4" stroke-width="0.15" paint-order="stroke">high</text>
<text x="62.40" y="393.70" font-size="6.8" text-anchor="middle" fill="#1e1e1e" font-weight="normal" stroke="#1e1e1e" stroke-width="0.15" paint-order="stroke">8857</text>
<text x="62.40" y="403.20" font-size="6.8" text-anchor="middle" fill="#1e1e1e" font-weight="normal" stroke="#1e1e1e" stroke-width="0.15" paint-order="stroke">1322</text>
<line x1="62.40" y1="406.50" x2="62.40" y2="408.30" stroke="#5a5a5a" stroke-width="1" />
<text x="62.40" y="413.40" font-size="6.3" text-anchor="middle" fill="#1e1e1e" font-weight="normal" stroke="#1e1e1e" stroke-width="0.15" paint-order="stroke">0</text>
<text x="114.10" y="393.70" font-size="6.8" text-anchor="middle" fill="#1e1e1e" font-weight="normal" stroke="#1e1e1e" stroke-width="0.15" paint-order="stroke">8360</text>
<text x="114.10" y="403.20" font-size="6.8" text-anchor="middle" fill="#1e1e1e" font-weight="normal" stroke="#1e1e1e" stroke-width="0.15" paint-order="stroke">1258</text>
<line x1="114.10" y1="406.50" x2="114.10" y2="408.30" stroke="#5a5a5a" stroke-width="1" />
<text x="114.10" y="413.40" font-size="6.3" text-anchor="middle" fill="#1e1e1e" font-weight="normal" stroke="#1e1e1e" stroke-width="0.15" paint-order="stroke">500</text>
<text x="165.80" y="393.70" font-size="6.8" text-anchor="middle" fill="#1e1e1e" font-weight="normal" stroke="#1e1e1e" stroke-width="0.15" paint-order="stroke">8015</text>
<text x="165.80" y="403.20" font-size="6.8" text-anchor="middle" fill="#1e1e1e" font-weight="normal" stroke="#1e1e1e" stroke-width="0.15" paint-order="stroke">1197</text>
<line x1="165.80" y1="406.50" x2="165.80" y2="408.30" stroke="#5a5a5a" stroke-width="1" />
<text x="165.80" y="413.40" font-size="6.3" text-anchor="middle" fill="#1e1e1e" font-weight="normal" stroke="#1e1e1e" stroke-width="0.15" paint-order="stroke">1000</text>
<text x="217.50" y="393.70" font-size="6.8" text-anchor="middle" fill="#1e1e1e" font-weight="normal" stroke="#1e1e1e" stroke-width="0.15" paint-order="stroke">6060</text>
<text x="217.50" y="403.20" font-size="6.8" text-anchor="middle" fill="#1e1e1e" font-weight="normal" stroke="#1e1e1e" stroke-width="0.15" paint-order="stroke">862</text>
<line x1="217.50" y1="406.50" x2="217.50" y2="408.30" stroke="#5a5a5a" stroke-width="1" />
<text x="217.50" y="413.40" font-size="6.3" text-anchor="middle" fill="#1e1e1e" font-weight="normal" stroke="#1e1e1e" stroke-width="0.15" paint-order="stroke">1500</text>
<text x="269.20" y="393.70" font-size="6.8" text-anchor="middle" fill="#1e1e1e" font-weight="normal" stroke="#1e1e1e" stroke-width="0.15" paint-order="stroke">2710</text>
<text x="269.20" y="403.20" font-size="6.8" text-anchor="middle" fill="#1e1e1e" font-weight="normal" stroke="#1e1e1e" stroke-width="0.15" paint-order="stroke">338</text>
<line x1="269.20" y1="406.50" x2="269.20" y2="408.30" stroke="#5a5a5a" stroke-width="1" />
<text x="269.20" y="413.40" font-size="6.3" text-anchor="middle" fill="#1e1e1e" font-weight="normal" stroke="#1e1e1e" stroke-width="0.15" paint-order="stroke">2000</text>
<text x="320.90" y="393.70" font-size="6.8" text-anchor="middle" fill="#1e1e1e" font-weight="normal" stroke="#1e1e1e" stroke-width="0.15" paint-order="stroke">786</text>
<text x="320.90" y="403.20" font-size="6.8" text-anchor="middle" fill="#1e1e1e" font-weight="normal" stroke="#1e1e1e" stroke-width="0.15" paint-order="stroke">91</text>
<line x1="320.90" y1="406.50" x2="320.90" y2="408.30" stroke="#5a5a5a" stroke-width="1" />
<text x="320.90" y="413.40" font-size="6.3" text-anchor="middle" fill="#1e1e1e" font-weight="normal" stroke="#1e1e1e" stroke-width="0.15" paint-order="stroke">2500</text>
<text x="164.20" y="420.30" font-size="7.15" text-anchor="start" fill="#1e1e1e" font-weight="normal" stroke="#1e1e1e" stroke-width="0.15" paint-order="stroke">Follow up time(d)</text>
<text x="0" y="0" font-size="6.7" text-anchor="middle" fill="#1e1e1e" stroke="#1e1e1e" stroke-width="0.15" transform="translate(28.50,395.50) rotate(-90)">Survival Curve</text>
</svg></body></html>
